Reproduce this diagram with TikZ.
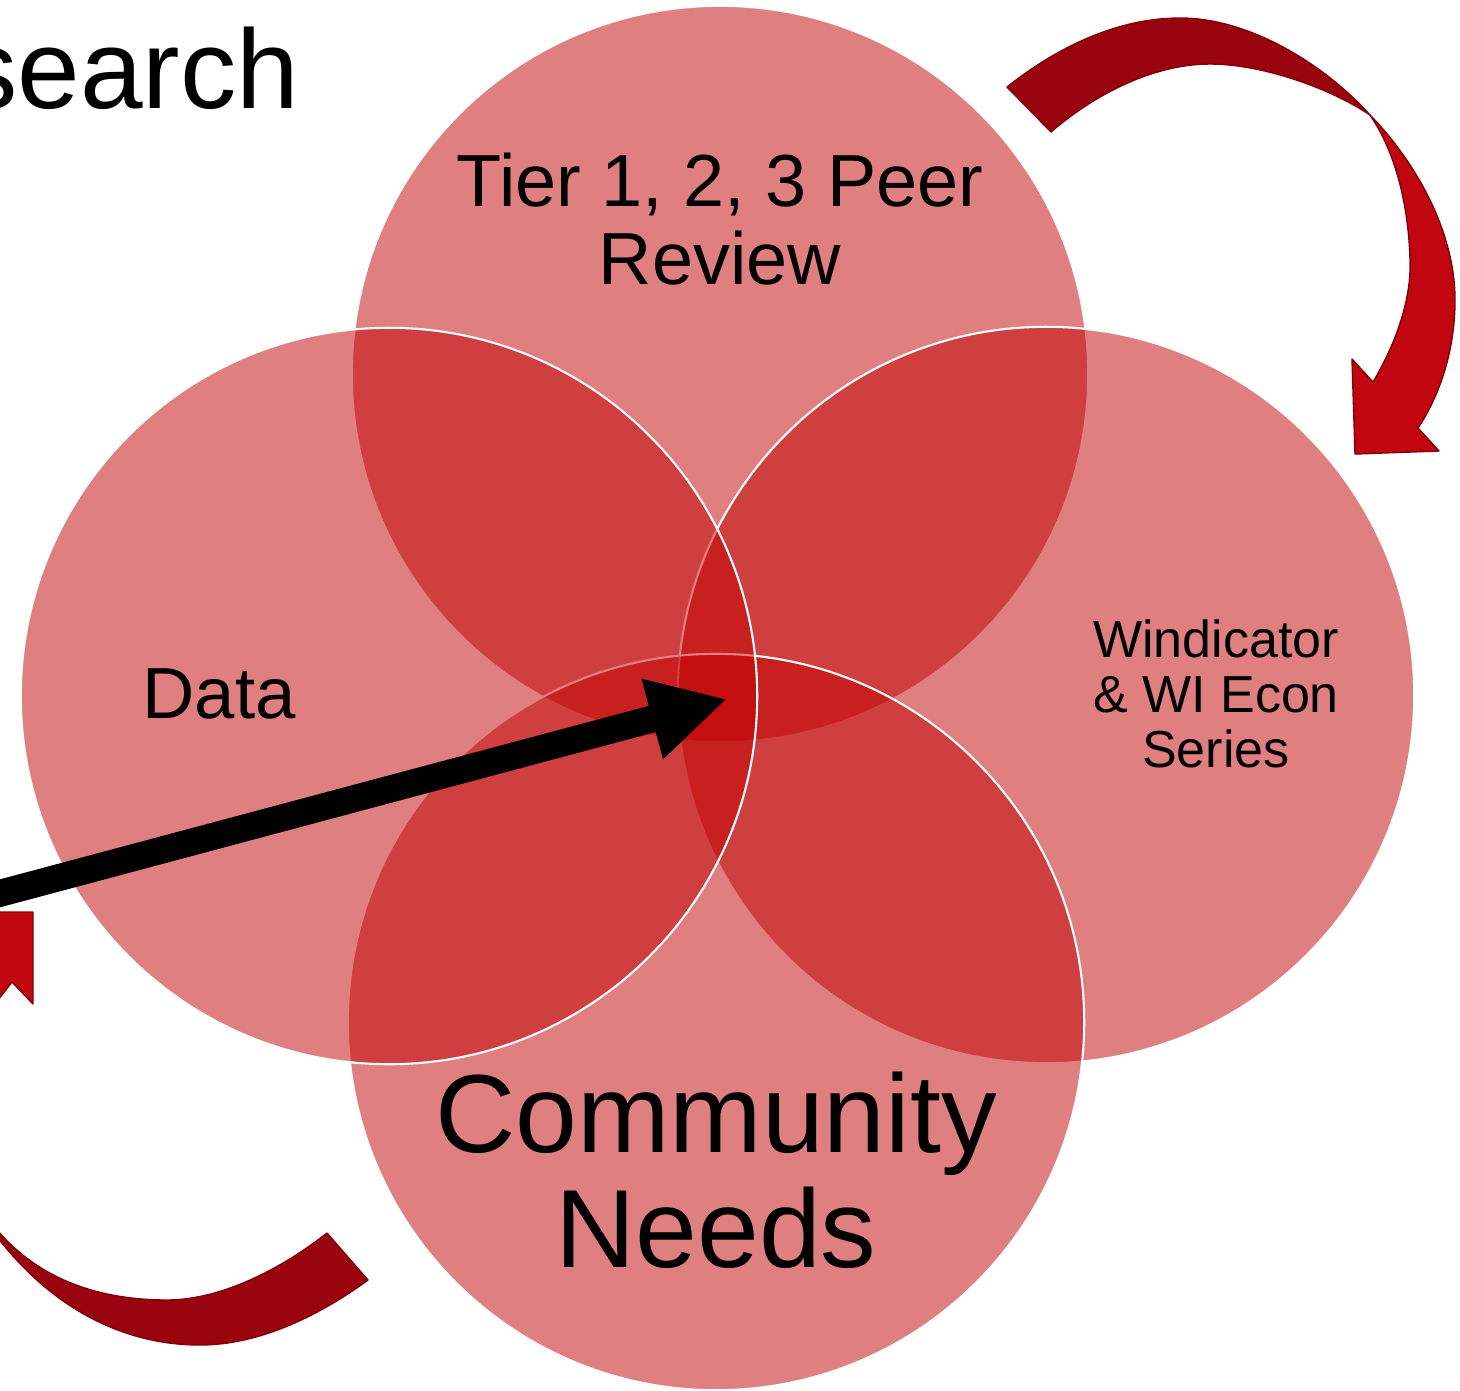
\documentclass[tikz,border=0pt]{standalone}
\usepackage{fontspec}
\setmainfont{Liberation Sans}
\usetikzlibrary{arrows.meta}
\definecolor{vennred}{RGB}{192,0,0}
\definecolor{arrowdark}{RGB}{154,4,14}
\definecolor{arrowlight}{RGB}{193,6,15}
\definecolor{arrowedge}{RGB}{130,0,8}

\begin{document}
\begin{tikzpicture}[x=0.01cm,y=-0.01cm,line join=round,
	venn/.style={circle,minimum size=7.36cm,inner sep=0pt,fill=vennred,fill opacity=0.5,draw=white,line width=0.6pt},
	lbl/.style={align=center,inner sep=0pt,text=black},
	swoop/.style={line width=0.4pt,draw=arrowedge}]
	%% Frame
	\useasboundingbox (0,0) rectangle (1460,1390);
	%% Title
	\node[inner sep=0pt,anchor=base east,font=\fontsize{32}{36}\selectfont] (title) at (300,108) {search};
	%% Curved arrow, top right
	\filldraw[swoop,fill=arrowdark] (1007,87) .. controls (1060,45) and (1120,18) .. (1180,18)
		.. controls (1250,18) and (1325,65) .. (1370,115)
		.. controls (1330,88) and (1262,64) .. (1210,64)
		.. controls (1150,64) and (1090,98) .. (1051,132) -- cycle;
	\filldraw[swoop,fill=arrowlight] (1370,115) .. controls (1412,158) and (1455,228) .. (1455,300)
		.. controls (1455,350) and (1440,395) .. (1418,428)
		-- (1439,451) -- (1355,454) -- (1352,359) -- (1373,382)
		.. controls (1395,345) and (1412,300) .. (1410,258)
		.. controls (1408,200) and (1394,150) .. (1370,115) -- cycle;
	%% Curved arrow, bottom left
	\filldraw[swoop,fill=arrowdark] (-2,1238) .. controls (50,1305) and (120,1345) .. (200,1345)
		.. controls (260,1345) and (320,1315) .. (368,1280) -- (327,1233)
		.. controls (280,1270) and (220,1300) .. (167,1300)
		.. controls (100,1300) and (40,1280) .. (-2,1231) -- cycle;
	\filldraw[swoop,fill=arrowlight] (-2,912) -- (33,912) -- (33,1004) -- (12,982) -- (-2,1000) -- cycle;
	%% Circles
	\node[venn] (tier) at (720,374) {};
	\node[venn] (windi) at (1046,695) {};
	\node[venn] (comm) at (716,1022) {};
	\node[venn] (data) at (389,696) {};
	%% Labels
	\node[lbl,font=\fontsize{21}{22.2}\selectfont] (tierlbl) at (720,219) {Tier 1, 2, 3 Peer\\Review};
	\node[lbl,font=\fontsize{20.6}{24}\selectfont] (datalbl) at (219,694) {Data};
	\node[lbl,font=\fontsize{14.8}{15.6}\selectfont] (windilbl) at (1216,694) {Windicator\\\& WI Econ\\Series};
	\node[lbl,font=\fontsize{31.6}{32.7}\selectfont] (commlbl) at (716,1170) {Community\\Needs};
	%% Pointer
	\coordinate (src) at (-10,896);
	\coordinate (hub) at (727,699);
	\draw[line width=7.7pt,-{Triangle[length=22pt,width=22pt]}] (src) -- (hub);
\end{tikzpicture}
\end{document}
